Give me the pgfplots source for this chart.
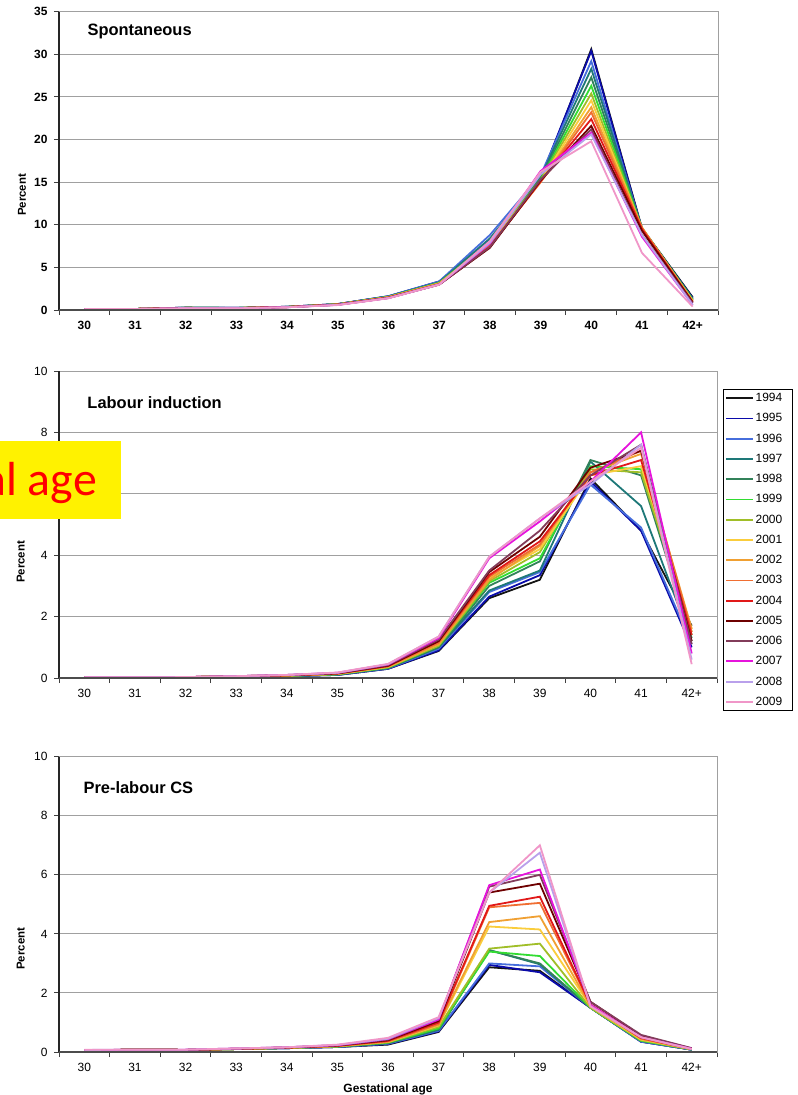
\documentclass[border=0pt]{standalone}
\usepackage{pgfplots}
\pgfplotsset{compat=1.18}
\usepackage{pgfplotstable}
\usepackage{fontspec}
\setmainfont{Liberation Sans}
\newfontfamily\calib{Carlito}

\definecolor{c1994}{RGB}{20,20,20}
\definecolor{c1995}{RGB}{10,10,170}
\definecolor{c1996}{RGB}{70,110,220}
\definecolor{c1997}{RGB}{30,120,120}
\definecolor{c1998}{RGB}{50,130,90}
\definecolor{c1999}{RGB}{50,220,50}
\definecolor{c2000}{RGB}{160,190,40}
\definecolor{c2001}{RGB}{250,205,60}
\definecolor{c2002}{RGB}{240,160,50}
\definecolor{c2003}{RGB}{240,110,50}
\definecolor{c2004}{RGB}{225,25,25}
\definecolor{c2005}{RGB}{110,0,0}
\definecolor{c2006}{RGB}{130,60,90}
\definecolor{c2007}{RGB}{230,20,220}
\definecolor{c2008}{RGB}{185,160,235}
\definecolor{c2009}{RGB}{240,150,200}
\definecolor{gridgray}{RGB}{160,160,160}

% Spontaneous
\pgfplotstableread{
x y1994 y1995 y1996 y1997 y1998 y1999 y2000 y2001 y2002 y2003 y2004 y2005 y2006 y2007 y2008 y2009
0 0.10 0.10 0.10 0.10 0.10 0.10 0.10 0.10 0.10 0.10 0.10 0.10 0.10 0.10 0.10 0.10
1 0.12 0.12 0.12 0.12 0.12 0.12 0.12 0.12 0.12 0.12 0.12 0.12 0.12 0.12 0.12 0.12
2 0.28 0.28 0.27 0.27 0.26 0.26 0.25 0.25 0.24 0.24 0.23 0.23 0.22 0.20 0.20 0.20
3 0.25 0.25 0.25 0.24 0.24 0.24 0.23 0.23 0.23 0.22 0.22 0.22 0.21 0.21 0.20 0.20
4 0.38 0.38 0.37 0.37 0.36 0.36 0.35 0.35 0.35 0.34 0.34 0.34 0.33 0.33 0.32 0.32
5 0.70 0.70 0.68 0.68 0.67 0.67 0.66 0.65 0.65 0.64 0.63 0.62 0.62 0.60 0.60 0.58
6 1.60 1.62 1.62 1.58 1.55 1.55 1.52 1.50 1.50 1.48 1.45 1.42 1.42 1.40 1.40 1.38
7 3.30 3.35 3.35 3.25 3.20 3.18 3.15 3.12 3.10 3.05 3.02 2.98 2.98 3.00 3.00 2.98
8 7.6 8.2 8.8 8.4 8.0 7.9 7.8 7.7 7.6 7.5 7.4 7.3 7.4 7.8 7.9 8.1
9 15.2 15.5 15.8 15.6 15.4 15.3 15.2 15.1 15.0 15.0 15.1 15.2 15.3 16.3 15.9 16.2
10 30.6 30.4 29.2 28.3 27.3 26.3 25.4 24.6 23.8 23.2 22.4 21.6 21.2 20.8 20.6 19.8
11 9.6 9.5 9.5 9.6 9.5 9.6 9.5 9.6 9.7 9.6 9.5 9.3 8.8 8.6 8.8 6.7
12 1.5 1.4 1.3 1.3 1.2 1.2 1.1 1.1 1.0 1.0 0.9 0.9 0.8 0.6 0.6 0.4
}\tabA

% Labour induction
\pgfplotstableread{
x y1994 y1995 y1996 y1997 y1998 y1999 y2000 y2001 y2002 y2003 y2004 y2005 y2006 y2007 y2008 y2009
0 0.02 0.02 0.02 0.02 0.02 0.02 0.02 0.02 0.02 0.02 0.02 0.02 0.02 0.02 0.02 0.02
1 0.02 0.02 0.02 0.02 0.02 0.02 0.02 0.02 0.02 0.02 0.02 0.02 0.02 0.02 0.02 0.02
2 0.03 0.03 0.03 0.03 0.03 0.03 0.03 0.03 0.03 0.03 0.03 0.03 0.03 0.03 0.03 0.03
3 0.04 0.04 0.04 0.04 0.05 0.05 0.05 0.05 0.05 0.05 0.06 0.06 0.06 0.06 0.06 0.06
4 0.06 0.06 0.06 0.07 0.07 0.07 0.08 0.08 0.08 0.08 0.09 0.09 0.10 0.10 0.10 0.10
5 0.10 0.10 0.11 0.11 0.12 0.12 0.13 0.13 0.14 0.14 0.15 0.15 0.16 0.17 0.17 0.18
6 0.30 0.30 0.31 0.32 0.33 0.34 0.35 0.36 0.37 0.38 0.39 0.40 0.42 0.44 0.45 0.46
7 0.88 0.90 0.95 1.00 1.00 1.05 1.05 1.10 1.10 1.15 1.20 1.20 1.25 1.30 1.35 1.35
8 2.60 2.65 2.80 2.85 3.00 3.10 3.15 3.25 3.20 3.30 3.35 3.45 3.50 3.90 3.95 3.95
9 3.20 3.35 3.45 3.50 3.80 3.90 4.10 4.20 4.30 4.35 4.45 4.60 4.80 5.10 5.20 5.20
10 6.50 6.40 6.30 7.05 7.10 6.90 6.80 6.60 6.70 6.70 6.60 6.85 6.60 6.40 6.30 6.40
11 4.80 4.80 4.90 5.60 6.60 6.80 6.70 6.90 7.30 7.40 7.10 7.40 7.60 8.00 7.60 7.50
12 1.70 1.00 1.10 1.20 1.30 1.40 1.50 1.60 1.60 1.50 1.40 1.20 1.10 0.80 0.60 0.45
}\tabB

% Pre-labour CS
\pgfplotstableread{
x y1994 y1995 y1996 y1997 y1998 y1999 y2000 y2001 y2002 y2003 y2004 y2005 y2006 y2007 y2008 y2009
0 0.05 0.05 0.05 0.05 0.05 0.05 0.05 0.05 0.05 0.05 0.05 0.05 0.06 0.06 0.07 0.08
1 0.08 0.08 0.08 0.08 0.08 0.08 0.08 0.08 0.08 0.08 0.08 0.08 0.08 0.08 0.08 0.08
2 0.07 0.07 0.07 0.07 0.07 0.07 0.07 0.07 0.07 0.07 0.07 0.07 0.07 0.08 0.08 0.08
3 0.10 0.10 0.10 0.10 0.10 0.10 0.10 0.10 0.10 0.11 0.11 0.11 0.11 0.12 0.12 0.12
4 0.13 0.13 0.13 0.13 0.14 0.14 0.14 0.14 0.15 0.15 0.15 0.15 0.16 0.16 0.16 0.16
5 0.17 0.17 0.17 0.18 0.18 0.19 0.19 0.20 0.20 0.21 0.21 0.22 0.23 0.23 0.24 0.25
6 0.25 0.27 0.28 0.30 0.30 0.32 0.33 0.34 0.35 0.36 0.38 0.40 0.42 0.44 0.45 0.48
7 0.68 0.70 0.72 0.75 0.78 0.80 0.85 0.90 0.92 0.95 1.00 1.05 1.10 1.10 1.15 1.18
8 2.87 2.95 3.00 3.45 3.45 3.40 3.50 4.25 4.40 4.90 4.95 5.40 5.60 5.65 5.40 5.40
9 2.75 2.70 2.90 2.97 3.00 3.25 3.67 4.15 4.60 5.05 5.26 5.70 6.00 6.18 6.75 7.00
10 1.50 1.50 1.50 1.50 1.50 1.50 1.50 1.55 1.55 1.60 1.60 1.70 1.70 1.60 1.55 1.55
11 0.35 0.35 0.35 0.38 0.38 0.38 0.40 0.42 0.45 0.45 0.48 0.55 0.58 0.50 0.50 0.50
12 0.08 0.08 0.08 0.08 0.09 0.09 0.09 0.10 0.10 0.10 0.10 0.12 0.13 0.11 0.10 0.10
}\tabC

\pgfplotsset{
  panel/.style={
    scale only axis,
    width=659bp,
    xmin=-0.5, xmax=12.5, ymin=0,
    xtick={0,...,12},
    xticklabels={30,31,32,33,34,35,36,37,38,39,40,41,42+},
    minor xtick={-0.5,0.5,...,12.5},
    xtick pos=lower, ytick pos=left,
    tick align=outside,
    major x tick style={draw=none},
    minor x tick style={black!75, line width=1bp},
    minor tick length=5bp,
    major tick length=5bp,
    y tick style={black!75, line width=1bp},
    ymajorgrids,
    grid style={gridgray, line width=1bp},
    axis line style={gridgray, line width=1bp},
    /pgf/number format/assume math mode=true,
    ticklabel style={font=\fontsize{12}{14}\selectfont},
    xticklabel style={yshift=-3bp},
    yticklabel style={xshift=-3bp},
    ylabel={Percent},
    ylabel style={font=\bfseries\fontsize{11.5}{13}\selectfont, anchor=center},
    clip=false,
  },
  yr/.style={color=c#1, line width=1.8bp},
}

\newcommand{\plotall}[1]{%
  \pgfplotsinvokeforeach{1994,1995,1996,1997,1998,1999,2000,2001,2002,2003,2004,2005,2006,2007,2008,2009}{%
    \addplot[yr=##1] table[x=x,y=y##1]{#1};
  }%
  \draw[black!85, line width=1.5bp] (rel axis cs:0,0) -- (rel axis cs:0,1);
  \draw[black!70, line width=1.2bp] (rel axis cs:0,0) -- (rel axis cs:1,0);
}
\newcommand{\legtxt}[1]{\makebox[33bp][l]{#1}}

\begin{document}
\begin{tikzpicture}
\useasboundingbox (0,0) rectangle (798bp,-1095bp);

% Panel 1
\begin{axis}[panel,
  at={(59bp,-310bp)}, anchor=south west,
  height=298.3bp, ymax=35, ytick={0,5,...,35},
  ticklabel style={font=\bfseries\fontsize{12}{14}\selectfont},
  ylabel style={at={(rel axis cs:-0.056,0.386)}},
]
\plotall{\tabA}
\node[anchor=west, inner sep=0pt, font=\bfseries\fontsize{16.5}{18}\selectfont] at (rel axis cs:0.043,0.933) {Spontaneous};
\end{axis}

% Panel 2
\begin{axis}[panel,
  at={(59bp,-678bp)}, anchor=south west,
  width=658bp, height=307bp, ymax=10, ytick={0,2,...,10},
  yticklabels={0,2,4,,8,10},
  ylabel style={at={(rel axis cs:-0.058,0.378)}},
  legend cell align=left,
  legend style={at={(rel axis cs:1.009,0.94)}, anchor=north west,
    draw=black, line width=0.8bp, font=\fontsize{12}{12}\selectfont,
    row sep=9.4bp, inner xsep=2bp, inner ysep=3bp,
    nodes={inner xsep=1.5bp, inner ysep=0.5bp}},
  legend image code/.code={\draw[#1, line width=1.8bp] (2bp,0bp) -- (29bp,0bp);},
]
\plotall{\tabB}
\legend{\legtxt{1994},\legtxt{1995},\legtxt{1996},\legtxt{1997},\legtxt{1998},\legtxt{1999},\legtxt{2000},\legtxt{2001},\legtxt{2002},\legtxt{2003},\legtxt{2004},\legtxt{2005},\legtxt{2006},\legtxt{2007},\legtxt{2008},\legtxt{2009}}
\node[anchor=west, inner sep=0pt, font=\bfseries\fontsize{16.5}{18}\selectfont] at (rel axis cs:0.043,0.896) {Labour induction};
\end{axis}

% Panel 3
\begin{axis}[panel,
  at={(59bp,-1052bp)}, anchor=south west,
  width=658bp, height=295.3bp, ymax=10, ytick={0,2,...,10},
  ylabel style={at={(rel axis cs:-0.058,0.35)}},
  xlabel={Gestational age},
  xlabel style={at={(rel axis cs:0.5,0)}, anchor=north, yshift=-28bp, font=\bfseries\fontsize{12}{14}\selectfont},
]
\plotall{\tabC}
\node[anchor=west, inner sep=0pt, font=\bfseries\fontsize{16.5}{18}\selectfont] at (rel axis cs:0.037,0.897) {Pre-labour CS};
\end{axis}

% yellow overlay box
\begin{scope}
\clip (0,-441bp) rectangle (121bp,-519bp);
\fill[yellow] (0,-441bp) rectangle (121bp,-519bp);
\node[anchor=base east, inner sep=0pt, text=red, font=\calib\fontsize{48}{50}\selectfont] at (97bp,-495bp) {al age};
\end{scope}
\end{tikzpicture}
\end{document}
